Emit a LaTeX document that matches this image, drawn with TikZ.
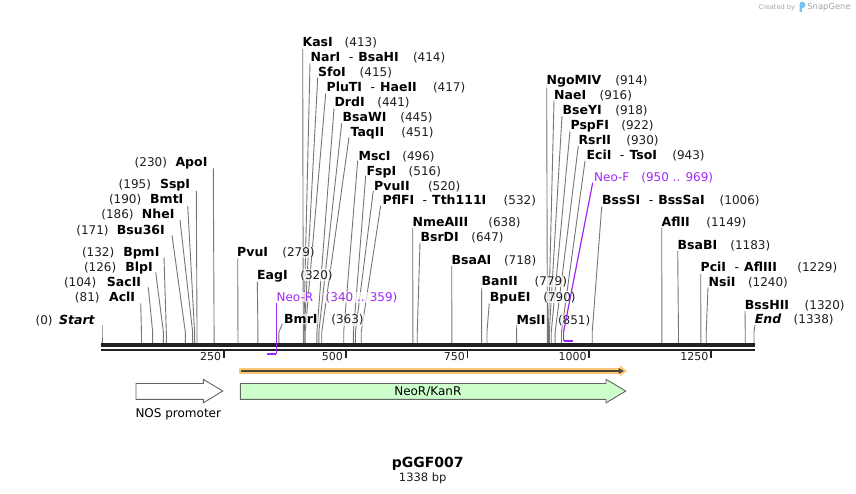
\documentclass[tikz,border=0pt]{standalone}
\usepackage{fontspec}
\setmainfont{DejaVu Sans}
\usetikzlibrary{arrows.meta}
\pgfdeclarelayer{bg}
\pgfdeclarelayer{paper}
\pgfsetlayers{paper,bg,main}
\definecolor{sitegray}{RGB}{118,118,118}
\definecolor{primer}{RGB}{160,40,245}
\definecolor{bbone}{RGB}{34,34,34}
\definecolor{numgray}{RGB}{30,30,30}
\definecolor{featgreen}{RGB}{204,255,204}
\definecolor{featedge}{RGB}{100,100,100}
\definecolor{orangeband}{RGB}{252,200,120}
\definecolor{darkarrow}{RGB}{80,68,52}
\definecolor{wmgray}{RGB}{165,165,165}
\definecolor{snapblue}{RGB}{120,195,240}
\newcommand\sgdash{\hspace{8.5pt}{\mdseries -}\hspace{5pt}}
\tikzset{
  ename/.style={inner sep=0.5pt, font=\fontsize{12.5}{15}\selectfont\bfseries, text=black, fill=white, fill opacity=0.7, text opacity=1},
  enum/.style={inner sep=0.5pt, font=\fontsize{12}{15}\selectfont, text=numgray, fill=white, fill opacity=0.7, text opacity=1},
  pname/.style={inner sep=0.5pt, font=\fontsize{12}{15}\selectfont, text=primer, fill=white, fill opacity=0.7, text opacity=1},
  siteline/.style={draw=sitegray, line width=0.9},
  ticklabel/.style={inner sep=0pt, font=\fontsize{11}{13}\selectfont, text=numgray, anchor=base east},
  tickmark/.style={draw=bbone, line width=1.8},
  featarrow/.style={draw=featedge, line width=0.9, line join=miter},
  featlabel/.style={inner sep=0pt, font=\fontsize{12}{15}\selectfont, text=black},
}
% site with label to the right of its line
\newcommand\rsite[9]{%
  \coordinate (#1-s) at ({102+#4*0.48729},343);
  \coordinate (#1-b) at ({102+#4*0.48729},332);
  \coordinate (#1-t) at (#8,#9);
  \begin{pgfonlayer}{bg}\draw[siteline] (#1-t) -- (#1-b) -- (#1-s);\end{pgfonlayer}
  \node[ename, anchor=base west] (#1) at ({#5-0.8},{#6+4.4}) {#2};
  \node[enum, anchor=base west] (#1-n) at ({#7-1},{#6+4.4}) {#3};
}
% site with label to the left of its line
\newcommand\lsite[9]{%
  \coordinate (#1-s) at ({102+#4*0.48729},343);
  \coordinate (#1-b) at ({102+#4*0.48729},332);
  \coordinate (#1-t) at (#8,#9);
  \begin{pgfonlayer}{bg}\draw[siteline] (#1-t) -- (#1-b) -- (#1-s);\end{pgfonlayer}
  \node[ename, anchor=base east] (#1) at ({#5+0.8},{#6+4.4}) {#2};
  \node[enum, anchor=base east] (#1-n) at ({#7+1},{#6+4.4}) {#3};
}
\begin{document}
\begin{tikzpicture}[x=1pt,y=-1pt]
\useasboundingbox (0,0) rectangle (856,494);
\begin{pgfonlayer}{paper}\fill[white] (0,0) rectangle (856,494);\end{pgfonlayer}

% watermark
\node[inner sep=0pt, anchor=base west, font=\fontsize{6.6}{8}\selectfont, text=wmgray] (wmA) at (758.5,9.8) {Created by};
\fill[snapblue] (799.6,12) -- (799.6,4.2) .. controls (799.6,2.5) and (800.8,1.7) .. (802.4,1.7) .. controls (804.3,1.7) and (805.4,3.2) .. (805.4,5) .. controls (805.4,6.9) and (803.8,8.2) .. (801.9,8.2) -- (801.9,12) -- cycle;
\node[inner sep=0pt, anchor=base west, font=\fontsize{8.4}{10}\selectfont, text=wmgray] (wmB) at (807.2,9.8) {SnapGene};

% backbone
\coordinate (bbL) at (101,345);
\coordinate (bbR) at (755,345);
\coordinate (bbL2) at (101,349.8);
\coordinate (bbR2) at (755,349.8);
\draw[bbone, line width=3.3] (bbL) -- (bbR);
\draw[bbone, line width=2] (bbL2) -- (bbR2);

% ruler
\foreach \t in {250,500,750,1000,1250}{
  \coordinate (tk\t) at ({102+\t*0.48729},351);
  \draw[tickmark] (tk\t) -- ++(0,6.5);
  \node[ticklabel] (tl\t) at ({102+\t*0.48729-2.5},360.3) {\t};
}

% sites, left side labels
\lsite{start}{\textit{Start}}{(0)}{0}{95}{320}{52.3}{102}{325}
\lsite{acl}{AclI}{(81)}{81}{135}{297}{99.3}{140.7}{303.3}
\lsite{sac}{SacII}{(104)}{104}{141}{282}{96}{148.3}{287.3}
\lsite{blp}{BlpI}{(126)}{126}{152.7}{267}{116}{155.7}{272.3}
\lsite{bpm}{BpmI}{(132)}{132}{159.3}{252}{114}{164}{257.3}
\lsite{bsu}{Bsu36I}{(171)}{171}{164.7}{230.5}{108.3}{172}{235.3}
\lsite{nhe}{NheI}{(186)}{186}{174.3}{214.5}{133.3}{180}{220}
\lsite{bmt}{BmtI}{(190)}{190}{183.3}{199.5}{141}{187.7}{205.7}
\lsite{ssp}{SspI}{(195)}{195}{190}{184.5}{150.7}{196.3}{191}
\lsite{apo}{ApoI}{(230)}{230}{207.3}{162}{166.7}{213.3}{168.3}

% sites, right side labels
\rsite{pvu}{PvuI}{(279)}{279}{237.3}{251.8}{282.7}{237.7}{258.3}
\rsite{eag}{EagI}{(320)}{320}{257.3}{274.7}{300.7}{257.3}{281}
\rsite{bmr}{BmrI}{(363)}{363}{284.3}{319.3}{331.7}{282.3}{324}
\rsite{kas}{KasI}{(413)}{413}{302.7}{42.5}{345}{302.7}{49}
\rsite{nar}{NarI\sgdash BsaHI}{(414)}{414}{310.7}{57.3}{413.3}{310}{63.3}
\rsite{sfo}{SfoI}{(415)}{415}{318.3}{72.3}{360}{317.7}{77.7}
\rsite{plu}{PluTI\sgdash HaeII}{(417)}{417}{326.7}{87.3}{433.3}{325.7}{93.3}
\rsite{drd}{DrdI}{(441)}{441}{334.7}{102}{377.7}{334}{108.3}
\rsite{bsaw}{BsaWI}{(445)}{445}{342.7}{117.3}{400.7}{341.7}{123.3}
\rsite{taq}{TaqII}{(451)}{451}{350.7}{132.3}{401.7}{349}{137.3}
\rsite{msc}{MscI}{(496)}{496}{358.7}{155.7}{402.7}{357.7}{160.7}
\rsite{fsp}{FspI}{(516)}{516}{366.7}{170.7}{409}{365.7}{175.7}
\rsite{pvuii}{PvuII}{(520)}{520}{374.3}{185.7}{428.3}{373.3}{190.7}
\rsite{pfl}{PflFI\sgdash Tth111I}{(532)}{532}{382.7}{200}{504}{380.7}{205.7}
\rsite{nme}{NmeAIII}{(638)}{638}{412.7}{222.3}{488.7}{412.7}{228.3}
\rsite{bsr}{BsrDI}{(647)}{647}{420.7}{236.7}{471.7}{420}{242.7}
\rsite{bsaa}{BsaAI}{(718)}{718}{451.7}{260}{504.3}{451.7}{266}
\rsite{ban}{BanII}{(779)}{779}{481.7}{281}{535}{481.7}{287.7}
\rsite{bpu}{BpuEI}{(790)}{790}{490}{296.7}{543.7}{489.3}{302.7}
\rsite{msl}{MslI}{(851)}{851}{516.7}{320}{558.3}{516.7}{325}
\rsite{ngo}{NgoMIV}{(914)}{914}{546.7}{80}{615.7}{546.7}{86}
\rsite{nae}{NaeI}{(916)}{916}{554.3}{94.7}{600}{554}{100.7}
\rsite{bsey}{BseYI}{(918)}{918}{562.7}{110}{615.7}{562}{116}
\rsite{psp}{PspFI}{(922)}{922}{570.7}{125}{621.7}{570}{131}
\rsite{rsr}{RsrII}{(930)}{930}{578.7}{140}{626.7}{578.3}{146}
\rsite{eci}{EciI\sgdash TsoI}{(943)}{943}{586.7}{155}{672.7}{585}{161}
\rsite{bsss}{BssSI\sgdash BssSaI}{(1006)}{1006}{602.3}{200}{720}{601.7}{206.7}
\rsite{afl}{AflII}{(1149)}{1149}{661.7}{222.3}{706.7}{661.7}{227.7}
\rsite{bsab}{BsaBI}{(1183)}{1183}{677.7}{245}{730.7}{677.7}{250.7}
\rsite{pci}{PciI\sgdash AflIII}{(1229)}{1229}{700.7}{267.3}{797.7}{700.7}{274}
\rsite{nsi}{NsiI}{(1240)}{1240}{708.7}{281.7}{748.3}{708}{287.3}
\rsite{bsshii}{BssHII}{(1320)}{1320}{745}{305}{805}{745}{311}
\rsite{end}{\textit{End}}{(1338)}{1338}{755}{319.3}{794}{755}{325}

% primers
\coordinate (nr-t) at (276.3,303.3);
\coordinate (nr-b) at (276.3,354.3);
\coordinate (nr-e) at (267.3,354.3);
\draw[primer, line width=1.2] (nr-t) -- (nr-b);
\draw[primer, line width=2] (nr-b) -- (nr-e);
\node[pname, anchor=base west] (neor) at (275.9,301.4) {Neo-R};
\node[pname, anchor=base west] (neor-n) at (325,301.4) {(340 .. 359)};

\coordinate (nf-t) at (592.7,182.7);
\coordinate (nf-b) at (563.6,331.7);
\coordinate (nf-c) at (563.6,341);
\coordinate (nf-e) at (572.7,341);
\draw[primer, line width=1.2] (nf-t) -- (nf-b) -- (nf-c);
\draw[primer, line width=2] (nf-c) -- (nf-e);
\node[pname, anchor=base west] (neof) at (593.5,181.1) {Neo-F};
\node[pname, anchor=base west] (neof-n) at (640.7,181.1) {(950 .. 969)};

% features
\coordinate (orA) at (239,371);
\coordinate (orB) at (627,371);
\coordinate (daA) at (241,371);
\coordinate (daB) at (624,371);
\draw[orangeband, line width=5.4, -{Triangle[length=7pt,width=10.5pt]}] (orA) -- (orB);
\draw[darkarrow, line width=1.7, -{Triangle[length=5.5pt,width=5.5pt]}] (daA) -- (daB);

\draw[featarrow, fill=featgreen] (240.3,383.5) -- (606,383.5) -- (606,379.3) -- (625.7,391) -- (606,402.9) -- (606,399.3) -- (240.3,399.3) -- cycle;
\node[featlabel, anchor=base] (neokan) at (427.8,395.4) {NeoR/KanR};

\draw[featarrow, fill=white] (136,383.5) -- (203.3,383.5) -- (203.3,379.3) -- (222.7,391) -- (203.3,402.9) -- (203.3,399.3) -- (136,399.3) -- cycle;
\node[featlabel, anchor=base west] (nos) at (135.3,417.7) {NOS promoter};

% title
\node[inner sep=0pt, anchor=base, font=\fontsize{14}{16}\selectfont\bfseries] (title) at (427.8,467.6) {pGGF007};
\node[inner sep=0pt, anchor=base, font=\fontsize{11.5}{14}\selectfont, text=numgray] (size) at (422.7,481.6) {1338 bp};
\end{tikzpicture}
\end{document}
